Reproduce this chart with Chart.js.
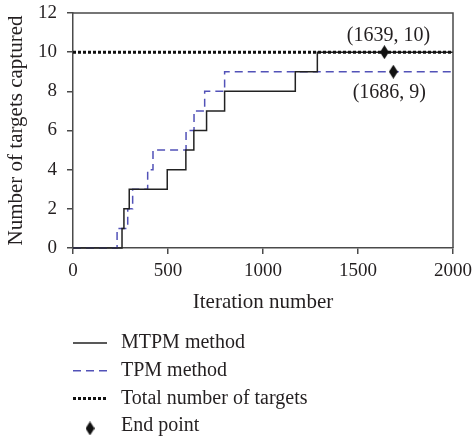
<!DOCTYPE html>
<html>
<head>
<meta charset="utf-8">
<script src="https://cdn.jsdelivr.net/npm/chart.js@4/dist/chart.umd.min.js"></script>
<style>
  html, body { margin: 0; padding: 0; background: #fff; }
  #wrap { width: 473px; height: 440px; position: relative; }
</style>
</head>
<body>
<div id="wrap"><canvas id="c" width="473" height="440"></canvas></div>
<script>
// ---- data ----
const mtpmX = [0, 258, 268, 296, 496, 594, 636, 703, 798, 1170, 1286, 2000];
const mtpmY = [0, 1, 2, 3, 4, 5, 6, 7, 8, 9, 10, 10];
const tpmX = [0, 232, 288, 314, 393, 421, 595, 637, 693, 798, 2000];
const tpmY = [0, 1, 2, 3, 4, 5, 6, 7, 8, 9, 9];
const totalX = [0, 2000];
const totalY = [10, 10];
const endX = [1639, 1686];
const endY = [10, 9];
const endLabels = ['(1639, 10)', '(1686, 9)'];
const seriesNames = ['MTPM method', 'TPM method', 'Total number of targets', 'End point'];
const xTicks = [0, 500, 1000, 1500, 2000];
const yTicks = [0, 2, 4, 6, 8, 10, 12];
const xTitle = 'Iteration number';
const yTitle = 'Number of targets captured';

const FONT = "'Liberation Serif', 'Times New Roman', serif";
const TXT = '#231f20';
const AXIS = '#4a4a4a';

function pts(xs, ys) { return xs.map((x, i) => ({ x: x, y: ys[i] })); }

// diamond marker image
const diamond = document.createElement('canvas');
diamond.width = 9; diamond.height = 14;
(function () {
  const g = diamond.getContext('2d');
  g.fillStyle = '#111';
  g.beginPath();
  g.moveTo(4.5, 0); g.lineTo(9, 7); g.lineTo(4.5, 14); g.lineTo(0, 7);
  g.closePath(); g.fill();
})();

const datasets = [
  { label: seriesNames[3], data: pts(endX, endY), showLine: false,
    pointStyle: diamond, pointRadius: 6, borderColor: '#111', backgroundColor: '#111' },
  { label: seriesNames[2], data: pts(totalX, totalY), borderColor: '#111',
    borderWidth: 3, borderDash: [3, 2], pointRadius: 0, fill: false },
  { label: seriesNames[0], data: pts(mtpmX, mtpmY), stepped: 'before', borderColor: '#222',
    borderWidth: 1.5, pointRadius: 0, fill: false },
  { label: seriesNames[1], data: pts(tpmX, tpmY), stepped: 'before', borderColor: '#5252b8',
    borderWidth: 1.5, borderDash: [8, 5], pointRadius: 0, fill: false }
];
const legendOrder = [2, 3, 1, 0];

const boxPlugin = {
  id: 'boxAndLegend',
  afterDatasetsDraw(chart) {
    const ctx = chart.ctx, a = chart.chartArea;
    ctx.save();
    ctx.strokeStyle = AXIS; ctx.lineWidth = 1.5;
    ctx.beginPath();
    ctx.moveTo(a.left, a.top); ctx.lineTo(a.right, a.top); ctx.lineTo(a.right, a.bottom);
    ctx.stroke();
    // end-point labels
    const xs = chart.scales.x, ys = chart.scales.y;
    ctx.fillStyle = TXT;
    ctx.font = '20px ' + FONT;
    ctx.textAlign = 'center'; ctx.textBaseline = 'middle';
    const off = [[4, -16], [-4, 21]];
    endX.forEach((v, i) => {
      const px = xs.getPixelForValue(v), py = ys.getPixelForValue(endY[i]);
      ctx.fillText(endLabels[i], px + off[i][0], py + off[i][1]);
    });
    ctx.restore();
  },
  afterDraw(chart) {
    const ctx = chart.ctx;
    ctx.save();
    const x0 = 73, x1 = 107, tx = 121, base0 = 348, step = 27.8;
    legendOrder.forEach((di, r) => {
      const ds = chart.data.datasets[di];
      const yb = base0 + r * step, yl = yb - 5;
      if (ds.showLine === false) {
        ctx.drawImage(diamond, 90 - 4.5, yl - 7 + 2);
      } else {
        ctx.strokeStyle = ds.borderColor;
        ctx.lineWidth = ds.borderWidth;
        ctx.setLineDash(ds.borderDash || []);
        ctx.beginPath(); ctx.moveTo(x0, yl); ctx.lineTo(x1, yl); ctx.stroke();
        ctx.setLineDash([]);
      }
      ctx.fillStyle = TXT;
      ctx.font = '20px ' + FONT;
      ctx.textAlign = 'left'; ctx.textBaseline = 'alphabetic';
      ctx.fillText(ds.label, tx, yb);
    });
    ctx.restore();
  }
};

new Chart(document.getElementById('c'), {
  type: 'line',
  data: { datasets: datasets },
  options: {
    responsive: false,
    animation: false,
    devicePixelRatio: 1,
    layout: { padding: { left: 0, right: 20, top: 13, bottom: 122 } },
    plugins: { legend: { display: false }, tooltip: { enabled: false } },
    elements: { line: { tension: 0 } },
    datasets: { line: { clip: false } },
    scales: {
      x: {
        type: 'linear', min: 0, max: 2000,
        afterFit(s) { s.height = 70; s.paddingLeft = 0; s.paddingRight = 0; },
        afterBuildTicks(s) { s.ticks = xTicks.map(v => ({ value: v })); },
        ticks: { color: TXT, font: { family: FONT, size: 19 }, padding: 6, maxRotation: 0,
                 callback: v => String(v) },
        grid: { display: true, drawOnChartArea: false, drawTicks: true, tickLength: 6, color: AXIS, lineWidth: 1.5 },
        border: { display: true, color: AXIS, width: 1.5 },
        title: { display: true, text: xTitle, color: TXT, font: { family: FONT, size: 21 }, padding: { top: 0, bottom: 3 } }
      },
      y: {
        type: 'linear', min: 0, max: 12,
        afterFit(s) { s.width = 73; s.paddingTop = 0; s.paddingBottom = 0; },
        afterBuildTicks(s) { s.ticks = yTicks.map(v => ({ value: v })); },
        ticks: { color: TXT, font: { family: FONT, size: 19 }, padding: 10, callback: v => String(v) },
        grid: { display: true, drawOnChartArea: false, drawTicks: true, tickLength: 6, color: AXIS, lineWidth: 1.5 },
        border: { display: true, color: AXIS, width: 1.5 },
        title: { display: true, text: yTitle, color: TXT, font: { family: FONT, size: 21 }, padding: { top: 4, bottom: 0 } }
      }
    }
  },
  plugins: [boxPlugin]
});
</script>
</body>
</html>
